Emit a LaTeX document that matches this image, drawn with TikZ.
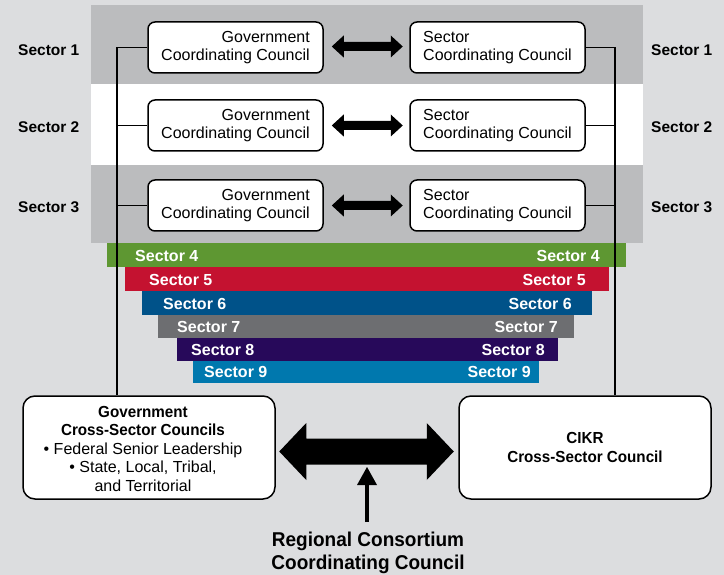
\documentclass[tikz,border=0pt]{standalone}
\usepackage{fontspec}
\setmainfont{Liberation Sans}
\newfontfamily\narrowfont[FakeStretch=0.95]{Liberation Sans}
\usetikzlibrary{calc}

\definecolor{pagebg}{HTML}{DCDDDF}
\definecolor{bandgray}{HTML}{BBBCBE}
\definecolor{sgreen}{HTML}{5E9732}
\definecolor{sred}{HTML}{C41230}
\definecolor{sblue}{HTML}{005289}
\definecolor{sgray}{HTML}{6D6E71}
\definecolor{spurple}{HTML}{27095A}
\definecolor{steal}{HTML}{0078AE}

% filled double-headed arrow: left tip, right tip, head length, half head width, half shaft width
\newcommand\twoheaded[5]{%
  \fill (#1) -- ++(#3,-#4) -- ++(0,#4-#5) -- ($(#2)+(-#3,-#5)$) -- ++(0,#5-#4)
    -- (#2) -- ++(-#3,#4) -- ++(0,#5-#4) -- ($(#1)+(#3,#5)$) -- ++(0,#4-#5) -- cycle;}

\tikzset{
  council/.style={draw=black, line width=1.5pt, fill=white, rounded corners=7pt,
    minimum width=175pt, minimum height=51pt, inner sep=0pt,
    font=\fontsize{16}{18}\selectfont},
  crossbox/.style={draw=black, line width=1.5pt, fill=white, rounded corners=12pt,
    minimum width=252pt, minimum height=103pt, inner sep=0pt},
  sidelabel/.style={inner sep=0pt, text height=11.1pt, text depth=0pt,
    font=\fontsize{15.5}{18}\selectfont\bfseries},
  barlabel/.style={inner sep=0pt, text height=11.5pt, text depth=0pt, text=white,
    font=\fontsize{16}{18}\selectfont\bfseries},
  bar/.style={inner sep=0pt, outer sep=0pt, minimum height=23.5pt},
  link/.style={line width=1.5pt, black},
}

\begin{document}
\begin{tikzpicture}[x=1pt, y=-1pt]
  % page and sector bands
  \fill[pagebg] (0,0) rectangle (724,575);
  \useasboundingbox (0,0) rectangle (724,575);
  \fill[bandgray] (90.5,5.5) rectangle (643,84);
  \fill[white] (90.5,84) rectangle (643,165);
  \fill[bandgray] (90.5,165) rectangle (643,243.5);

  % stacked sector bars
  \node[bar, fill=sgreen,  minimum width=519pt, anchor=north west] (bar4) at (107,243.5) {};
  \node[bar, fill=sred,    minimum width=484pt, anchor=north west] (bar5) at (125,267.5) {};
  \node[bar, fill=sblue,   minimum width=450pt, anchor=north west] (bar6) at (142,291.5) {};
  \node[bar, fill=sgray,   minimum width=416pt, anchor=north west, minimum height=22.5pt] (bar7) at (158,315) {};
  \node[bar, fill=spurple, minimum width=381pt, anchor=north west, minimum height=23pt] (bar8) at (177,337.5) {};
  \node[bar, fill=steal,   minimum width=346pt, anchor=north west, minimum height=22.5pt] (bar9) at (193,360.5) {};

  \node[barlabel, anchor=west] (l4) at (135,256) {Sector 4};
  \node[barlabel, anchor=east] (r4) at (600,256) {Sector 4};
  \node[barlabel, anchor=west] (l5) at (149,280) {Sector 5};
  \node[barlabel, anchor=east] (r5) at (586,280) {Sector 5};
  \node[barlabel, anchor=west] (l6) at (163,303.5) {Sector 6};
  \node[barlabel, anchor=east] (r6) at (572,303.5) {Sector 6};
  \node[barlabel, anchor=west] (l7) at (177,326.5) {Sector 7};
  \node[barlabel, anchor=east] (r7) at (558,326.5) {Sector 7};
  \node[barlabel, anchor=west] (l8) at (191,349.5) {Sector 8};
  \node[barlabel, anchor=east] (r8) at (545,349.5) {Sector 8};
  \node[barlabel, anchor=west] (l9) at (204,372) {Sector 9};
  \node[barlabel, anchor=east] (r9) at (531,372) {Sector 9};

  % side labels of the first three sectors
  \node[sidelabel, anchor=west] (sl1) at (18,49.5) {Sector 1};
  \node[sidelabel, anchor=west] (sl2) at (18,127) {Sector 2};
  \node[sidelabel, anchor=west] (sl3) at (18,207) {Sector 3};
  \node[sidelabel, anchor=west] (sr1) at (651,49.5) {Sector 1};
  \node[sidelabel, anchor=west] (sr2) at (651,127) {Sector 2};
  \node[sidelabel, anchor=west] (sr3) at (651,207) {Sector 3};

  % coordinating councils
  \node[council, align=right] (g1) at (235.5,47.5) {Government\\Coordinating Council};
  \node[council, align=right] (g2) at (235.5,125.5) {Government\\Coordinating Council};
  \node[council, align=right] (g3) at (235.5,205.5) {Government\\Coordinating Council};
  \node[council, align=left] (s1) at (497.5,47.5) {Sector\\Coordinating Council};
  \node[council, align=left] (s2) at (497.5,125.5) {Sector\\Coordinating Council};
  \node[council, align=left] (s3) at (497.5,205.5) {Sector\\Coordinating Council};

  % cross-sector councils
  \node[crossbox] (gcsc) at (149,447.5) {};
  \node[align=center, inner sep=0pt, font=\fontsize{16}{18.5}\selectfont] (gcsctext) at (143,448.5)
    {\narrowfont\bfseries Government\\
     \narrowfont\bfseries Cross-Sector Councils\\
     \textbullet\ Federal Senior Leadership\\
     \textbullet\ State, Local, Tribal,\\
     and Territorial};
  \node[crossbox, align=center, font=\narrowfont\bfseries\fontsize{16}{19}\selectfont]
    (cikr) at (585,447.5) {CIKR\\Cross-Sector Council};

  % caption
  \node[align=center, inner sep=0pt, font=\narrowfont\bfseries\fontsize{20}{23}\selectfont]
    (rccc) at (368,553) {Regional Consortium\\Coordinating Council};

  % tree connectors on both sides
  \coordinate (lx) at (117,0);
  \coordinate (rx) at (615,0);
  \draw[link] (g1.west) -- (g1.west -| lx) -- (lx |- gcsc.north);
  \draw[link] (g2.west) -- (g2.west -| lx);
  \draw[link] (g3.west) -- (g3.west -| lx);
  \draw[link] (s1.east) -- (s1.east -| rx) -- (rx |- cikr.north);
  \draw[link] (s2.east) -- (s2.east -| rx);
  \draw[link] (s3.east) -- (s3.east -| rx);

  % two-way arrows between the councils of each sector
  \coordinate (a1) at ($(g1.east)+(8,-1)$);  \coordinate (b1) at ($(s1.west)+(-6.5,-1)$);
  \coordinate (a2) at ($(g2.east)+(8,0)$);   \coordinate (b2) at ($(s2.west)+(-6.5,0)$);
  \coordinate (a3) at ($(g3.east)+(8,0)$);   \coordinate (b3) at ($(s3.west)+(-6.5,0)$);
  \twoheaded{a1}{b1}{12}{11}{4.5}
  \twoheaded{a2}{b2}{12}{11}{4.5}
  \twoheaded{a3}{b3}{12}{11}{4.5}

  % two-way arrow between the cross-sector councils
  \coordinate (ca) at ($(gcsc.east)+(3.5,4)$);
  \coordinate (cb) at ($(cikr.west)+(-4.5,4)$);
  \twoheaded{ca}{cb}{27}{28.5}{13}

  % arrow from the regional consortium
  \coordinate (upbase) at (367,522);
  \coordinate (uptip) at (367,467);
  \draw[line width=4pt] (upbase) -- ($(uptip)+(0,17)$);
  \fill (uptip) -- ++(10,18) -- ++(-20,0) -- cycle;
\end{tikzpicture}
\end{document}
